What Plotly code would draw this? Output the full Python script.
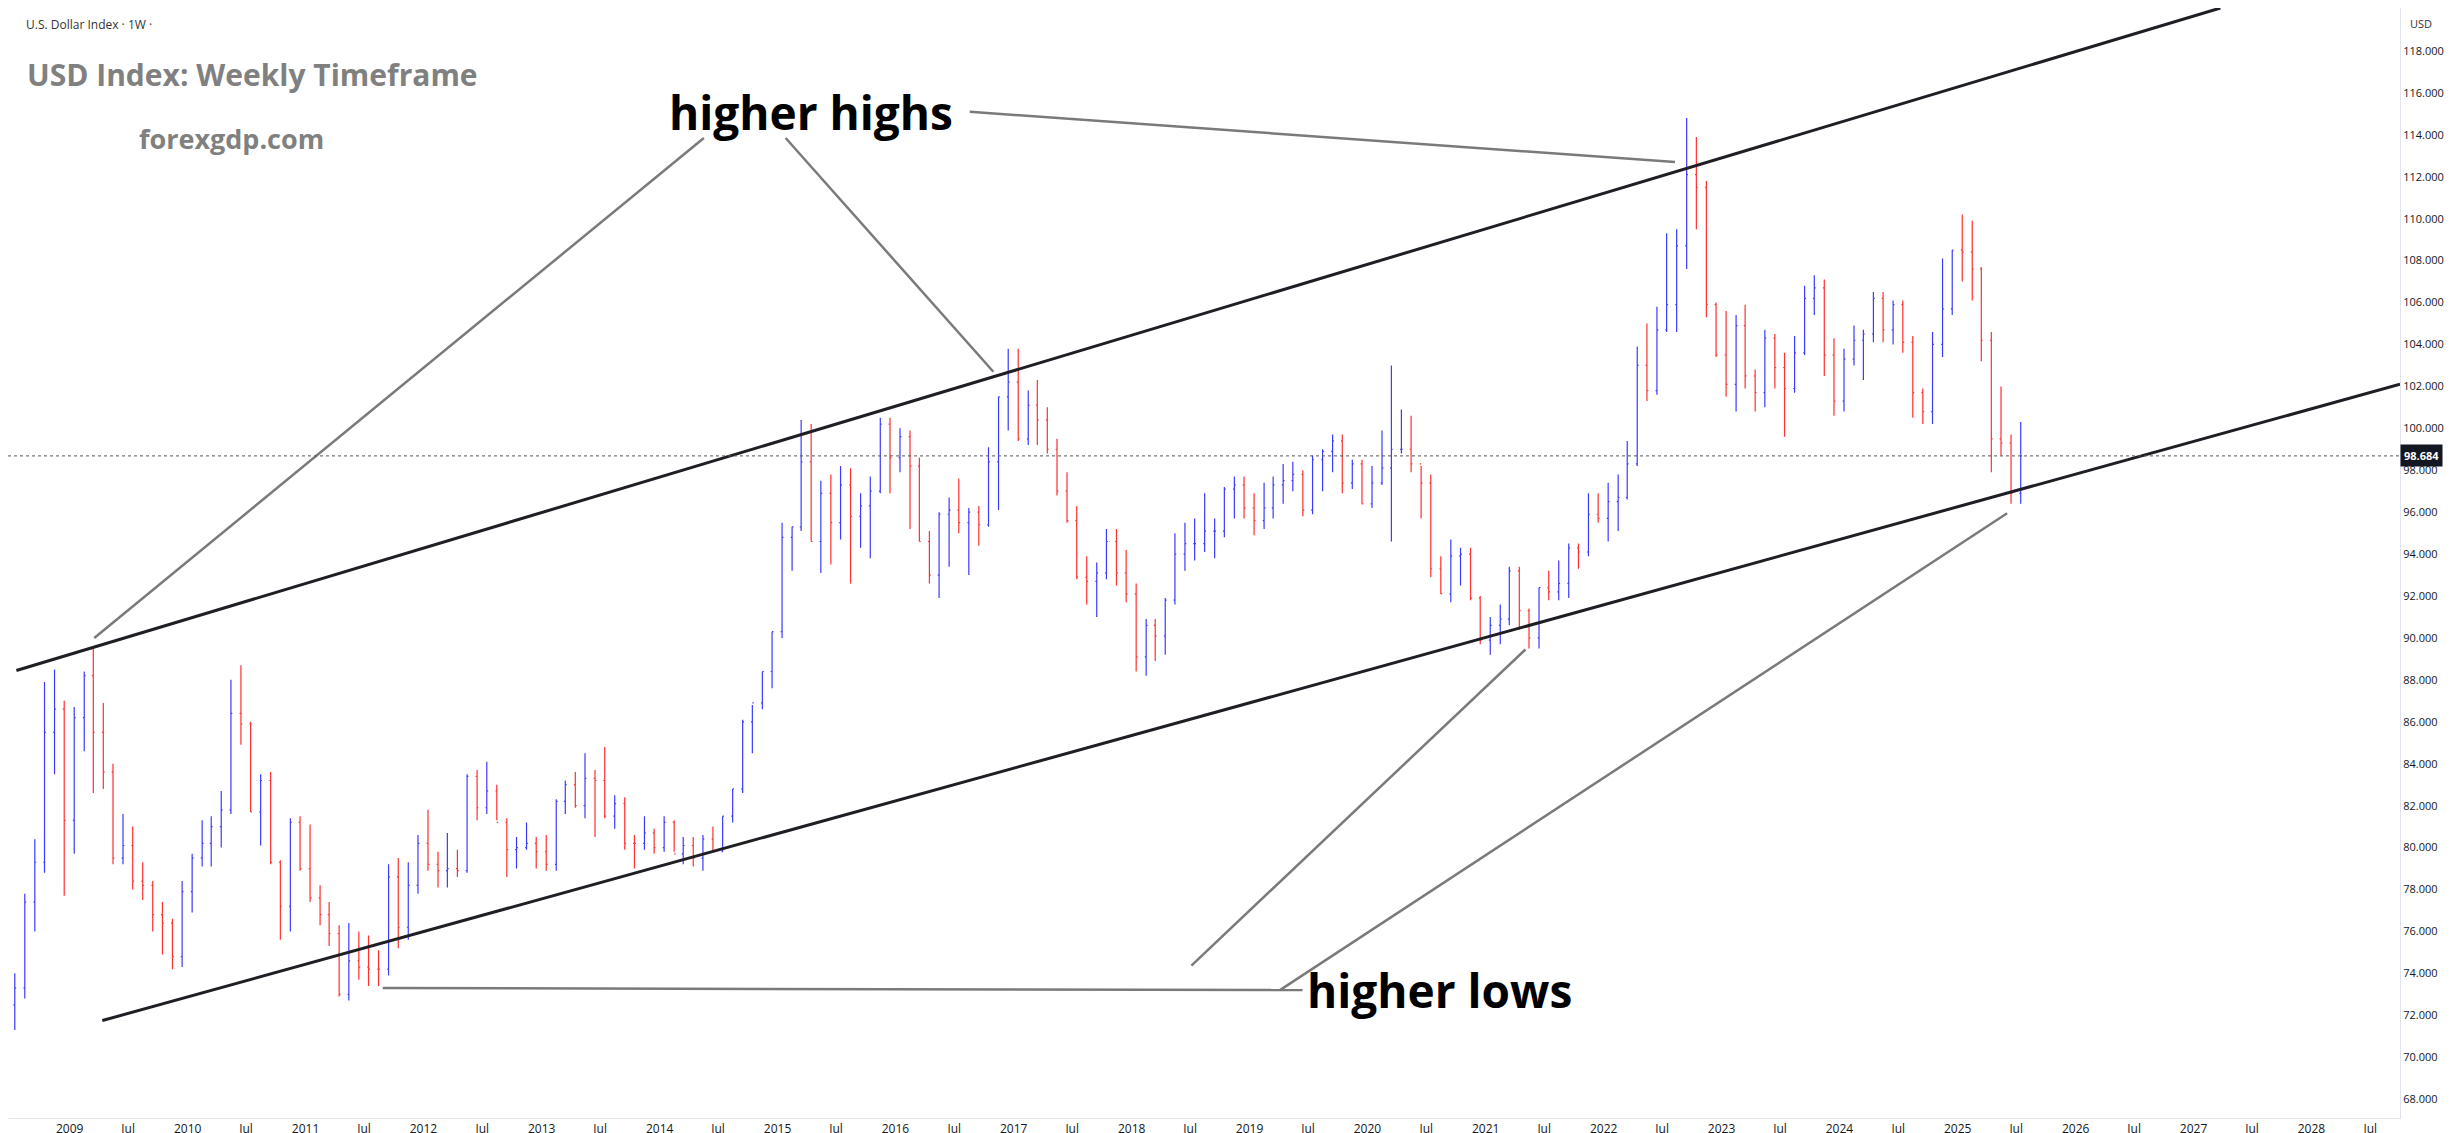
import plotly.graph_objects as go

# monthly bars of the USD index, Jul 2008 .. Jul 2025
months = ["2008-07-15", "2008-08-15", "2008-09-15", "2008-10-15", "2008-11-15", "2008-12-15"] + \
    ["%d-%02d-15" % (y, m) for y in range(2009, 2025) for m in range(1, 13)] + \
    ["2025-01-15", "2025-02-15", "2025-03-15", "2025-04-15", "2025-05-15", "2025-06-15", "2025-07-15"]

highs = [74.0, 77.8, 80.4, 87.9, 88.5, 87.0,
         86.7, 88.4, 89.6, 86.9, 84.0, 81.6, 81.0, 79.3, 78.4, 77.4, 76.6, 78.4,
         79.7, 81.3, 81.5, 82.7, 88.0, 88.7, 86.0, 83.5, 83.6, 79.4, 81.4, 81.5,
         81.1, 78.2, 77.4, 76.3, 76.4, 76.0, 75.8, 75.1, 79.2, 79.5, 79.3, 80.6,
         81.8, 79.8, 80.7, 79.9, 83.5, 83.7, 84.1, 83.0, 81.4, 80.5, 81.2, 80.5,
         80.6, 82.3, 83.2, 83.6, 84.5, 83.7, 84.8, 82.5, 82.4, 80.6, 81.5, 80.9,
         81.5, 81.3, 80.5, 80.5, 80.6, 81.0, 81.5, 82.8, 86.1, 86.8, 88.4, 90.3,
         95.5, 95.3, 100.4, 100.2, 97.5, 97.8, 98.2, 98.1, 96.9, 97.7, 100.5, 100.5,
         100.0, 99.9, 98.6, 95.1, 96.0, 96.7, 97.6, 96.2, 96.3, 99.1, 101.5, 103.8,
         103.8, 101.8, 102.3, 101.0, 99.5, 97.9, 96.3, 93.9, 93.6, 95.2, 95.2, 94.2,
         92.6, 90.9, 90.9, 91.9, 95.0, 95.5, 95.7, 96.9, 95.7, 97.2, 97.7, 97.7,
         96.9, 97.4, 97.7, 98.3, 98.4, 98.0, 98.7, 99.0, 99.7, 99.7, 98.5, 98.5,
         98.2, 99.9, 103.0, 100.9, 100.6, 98.2, 97.8, 93.9, 94.7, 94.3, 94.3, 92.0,
         91.0, 91.6, 93.4, 93.4, 91.4, 92.4, 93.2, 93.7, 94.5, 94.5, 96.9, 96.9,
         97.4, 97.8, 99.4, 103.9, 105.0, 105.8, 109.3, 109.5, 114.8, 113.9, 111.8, 106.0,
         105.6, 105.4, 105.9, 102.8, 104.7, 104.5, 103.6, 104.4, 106.8, 107.3, 107.1, 104.3,
         103.8, 104.9, 104.7, 106.5, 106.5, 106.1, 106.1, 104.4, 101.9, 104.6, 108.1, 108.5,
         110.2, 109.9, 107.7, 104.6, 102.0, 99.7, 100.3]

lows = [71.3, 72.8, 76.0, 78.8, 83.5, 77.7,
        79.7, 84.6, 82.6, 82.8, 79.2, 79.2, 78.0, 77.5, 76.0, 74.9, 74.2, 74.3,
        76.9, 79.1, 79.1, 80.0, 81.6, 84.9, 81.7, 80.1, 79.2, 75.6, 76.0, 78.9,
        77.4, 76.3, 75.3, 72.9, 72.7, 73.7, 73.4, 73.4, 73.9, 75.2, 75.6, 77.8,
        78.9, 78.1, 78.1, 78.6, 78.8, 81.3, 81.6, 81.3, 78.6, 79.0, 79.9, 79.0,
        78.9, 78.9, 81.6, 81.9, 81.4, 80.5, 81.4, 80.9, 79.9, 79.0, 79.9, 79.7,
        79.8, 79.8, 79.2, 79.1, 78.9, 79.8, 79.8, 81.2, 82.6, 84.5, 86.6, 87.6,
        90.0, 93.2, 95.1, 94.6, 93.1, 93.5, 94.7, 92.6, 94.3, 93.8, 96.9, 96.9,
        97.9, 95.2, 94.6, 92.6, 91.9, 93.4, 95.0, 93.0, 94.4, 95.3, 96.1, 99.9,
        99.4, 99.2, 99.2, 98.8, 96.8, 95.5, 92.8, 91.6, 91.0, 92.8, 92.5, 91.7,
        88.4, 88.2, 88.9, 89.2, 91.6, 93.2, 93.7, 94.1, 93.8, 94.8, 95.7, 95.7,
        94.9, 95.2, 95.7, 96.4, 97.0, 95.8, 95.9, 97.0, 97.9, 96.9, 97.1, 96.4,
        96.2, 97.3, 94.6, 98.8, 97.9, 95.7, 92.9, 92.1, 91.7, 92.5, 91.8, 89.7,
        89.2, 89.7, 90.6, 90.4, 89.5, 89.5, 91.8, 91.8, 91.9, 93.3, 93.9, 95.5,
        94.6, 95.1, 96.6, 98.2, 101.3, 101.6, 104.6, 104.6, 107.6, 109.5, 105.3, 103.4,
        101.5, 100.8, 101.9, 100.8, 101.0, 101.9, 99.6, 101.7, 103.5, 105.4, 102.5, 100.6,
        100.8, 103.0, 102.3, 104.1, 104.1, 104.0, 103.6, 100.5, 100.2, 100.2, 103.4, 105.4,
        107.0, 106.1, 103.2, 97.9, 98.7, 96.4, 96.4]

closes = [73.3, 77.4, 79.3, 85.5, 86.6, 81.3,
          86.2, 88.2, 85.5, 83.6, 79.5, 80.1, 78.4, 78.2, 76.8, 76.4, 74.8, 77.9,
          79.5, 80.2, 81.0, 81.8, 86.4, 85.9, 81.7, 83.2, 79.3, 77.2, 81.2, 79.0,
          77.6, 76.8, 75.9, 73.0, 74.6, 74.3, 74.2, 74.2, 78.6, 76.2, 78.2, 80.2,
          79.2, 78.9, 79.0, 78.9, 83.4, 81.9, 82.7, 81.2, 79.9, 80.0, 80.2, 79.8,
          79.2, 82.2, 83.0, 82.0, 83.3, 83.2, 81.5, 82.1, 80.2, 80.2, 80.7, 80.0,
          81.2, 79.7, 80.1, 79.5, 80.4, 79.8, 81.5, 82.8, 86.0, 86.9, 88.4, 90.3,
          94.8, 95.3, 98.4, 94.6, 96.9, 95.5, 97.3, 95.8, 96.3, 97.0, 100.2, 98.6,
          99.6, 98.2, 94.6, 93.0, 95.9, 96.1, 95.5, 96.0, 95.4, 98.4, 101.5, 102.2,
          99.5, 101.1, 100.4, 99.0, 97.0, 95.6, 92.9, 92.7, 93.1, 94.6, 93.1, 92.1,
          89.1, 90.6, 90.1, 91.8, 94.0, 94.5, 94.5, 95.1, 95.1, 97.1, 97.3, 96.2,
          95.6, 96.2, 97.3, 97.5, 97.8, 96.1, 98.5, 98.9, 99.4, 97.4, 98.3, 96.4,
          97.4, 98.1, 99.0, 99.0, 98.3, 97.4, 93.3, 92.1, 93.9, 94.0, 91.9, 89.9,
          90.6, 90.9, 93.2, 91.3, 90.0, 92.4, 92.2, 92.6, 94.3, 94.1, 95.9, 95.7,
          96.5, 96.7, 98.3, 103.0, 101.8, 104.7, 105.9, 108.7, 112.1, 111.5, 105.9, 103.5,
          102.1, 104.9, 102.5, 101.7, 104.3, 102.9, 101.9, 103.6, 106.2, 106.7, 103.5, 101.3,
          103.3, 104.2, 104.5, 106.2, 104.7, 105.9, 104.1, 101.7, 100.8, 104.0, 105.7, 108.5,
          108.4, 107.6, 104.2, 99.5, 99.3, 96.9, 98.684]

opens = [72.5] + closes[:-1]

# channel lines and pointer lines: (date, price) pairs
upper_line = [("2008-07-20", 88.45), ("2027-03-25", 120.05)]
lower_line = [("2009-04-12", 71.75), ("2028-10-01", 102.1)]
pointers = [
    [("2014-05-18", 113.85), ("2009-03-18", 90.0)],
    [("2015-01-26", 113.85), ("2016-10-30", 102.7)],
    [("2016-08-18", 115.1), ("2022-08-10", 112.7)],
    [("2011-08-28", 73.3), ("2019-06-14", 73.2)],
    [("2018-07-05", 74.37), ("2021-05-04", 89.45)],
    [("2019-04-05", 73.2), ("2025-06-03", 95.95)],
]
last_price = 98.684

years = list(range(2009, 2029))
tickvals, ticktext = ["2008-07-01"], ["Jul"]
for y in years:
    tickvals += ["%d-01-01" % y, "%d-07-01" % y]
    ticktext += [str(y), "Jul"]

fig = go.Figure(go.Ohlc(
    x=months, open=opens, high=highs, low=lows, close=closes,
    increasing=dict(line=dict(color="#3b3bff", width=1.2)),
    decreasing=dict(line=dict(color="#ff3030", width=1.2)),
    tickwidth=0.15, hoverinfo="skip",
))

shapes = []
for (x0, y0), (x1, y1) in [upper_line, lower_line]:
    shapes.append(dict(type="line", x0=x0, y0=y0, x1=x1, y1=y1,
                       line=dict(color="#1e1e24", width=3)))
for (x0, y0), (x1, y1) in pointers:
    shapes.append(dict(type="line", x0=x0, y0=y0, x1=x1, y1=y1,
                       line=dict(color="#7a7a7a", width=2.5)))
shapes.append(dict(type="line", xref="paper", x0=0, x1=1, y0=last_price, y1=last_price,
                   line=dict(color="#555", width=1, dash="dot")))

annotations = [
    dict(x=0.0065, y=0.995, xref="paper", yref="paper", xanchor="left", yanchor="top",
         text="U.S. Dollar Index · 1W ·", showarrow=False, font=dict(size=12, color="#333")),
    dict(x=0.007, y=0.94, xref="paper", yref="paper", xanchor="left", yanchor="middle",
         text="<b>USD Index: Weekly Timeframe</b>", showarrow=False,
         font=dict(size=30, color="#808080")),
    dict(x=0.054, y=0.882, xref="paper", yref="paper", xanchor="left", yanchor="middle",
         text="<b>forexgdp.com</b>", showarrow=False, font=dict(size=27, color="#808080")),
    dict(x="2015-04-15", y=115.1, text="<b>higher highs</b>", showarrow=False,
         font=dict(size=46, color="#000")),
    dict(x="2020-08-10", y=73.2, text="<b>higher lows</b>", showarrow=False,
         font=dict(size=46, color="#000")),
    dict(x=1.0, y=last_price, xref="paper", xanchor="left", text="<b>98.684</b>",
         showarrow=False, bgcolor="#131722", font=dict(size=11, color="white"), borderpad=3),
    dict(x=1.0, y=1.0, xref="paper", yref="paper", xanchor="left", yanchor="top",
         xshift=8, yshift=-6, text="USD", showarrow=False, font=dict(size=11, color="#333")),
]

fig.update_layout(
    width=2452, height=1133,
    paper_bgcolor="white", plot_bgcolor="white",
    margin=dict(l=0, r=60, t=0, b=23),
    font=dict(family="Open Sans", color="#131722"),
    showlegend=False,
    shapes=shapes, annotations=annotations,
    xaxis=dict(range=["2008-06-24", "2028-10-01"], rangeslider=dict(visible=False),
               tickvals=tickvals, ticktext=ticktext, tickfont=dict(size=12),
               showgrid=False, showline=True, linecolor="#e0e3eb", ticks=""),
    yaxis=dict(side="right", range=[67.1, 120.05], dtick=2, tick0=68, tickformat=".3f",
               tickfont=dict(size=11), showgrid=False, showline=True,
               linecolor="#e0e3eb", zeroline=False, ticks=""),
)
fig.write_html("out.html")
